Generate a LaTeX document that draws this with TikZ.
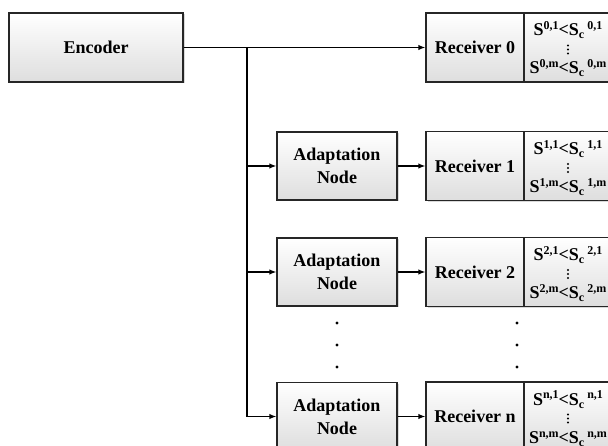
\documentclass[tikz,border=0pt]{standalone}
\usepackage{fontspec}
\setmainfont{Liberation Serif}
\usetikzlibrary{shadows,arrows.meta}

% small raised / lowered indices in the text font
\newcommand\supx[1]{\raisebox{6pt}{\fontsize{12}{12}\selectfont #1}}
\newcommand\subx[1]{\raisebox{-3pt}{\fontsize{12}{12}\selectfont #1}}
\newcommand\condline[2]{S\supx{#1,#2}<S\subx{c}\,\supx{#1,#2}}

\begin{document}
\begin{tikzpicture}[x=1pt,y=-1pt,
  box/.style={draw=black!85, line width=1.3pt, top color=white, bottom color=black!13,
    drop shadow={shadow xshift=1.5pt,shadow yshift=-1.5pt,opacity=0.3},
    font=\fontsize{18}{23}\selectfont\bfseries, align=center, inner sep=0pt},
  encbox/.style={box, minimum width=174pt, minimum height=69pt},
  adbox/.style={box, minimum width=120pt, minimum height=68pt},
  recbox/.style={box, minimum width=98pt, minimum height=69pt},
  condbox/.style={box, minimum width=88pt, minimum height=69pt},
  condtext/.style={font=\fontsize{18}{18}\selectfont\bfseries, inner sep=0pt, anchor=base},
  wire/.style={line width=1.3pt, black},
  feed/.style={wire, -{Latex[length=7pt,width=5.5pt]}},
  vdot/.style={fill=black, radius=1.1pt},
  rowdot/.style={fill=black, radius=1.7pt}
]
\useasboundingbox (0,0) rectangle (608,446);

% encoder
\node[encbox] (enc) at (96,47.5) {Encoder};

% receivers with their condition cells
\foreach \k/\y in {0/47.5, 1/166, 2/272, n/416.5}{
  \node[recbox] (rec\k) at (475,\y) {Receiver \k};
  \node[condbox] (cond\k) at (568,\y) {};
  \node[condtext] (cond\k a) at ([yshift=11.5pt]cond\k.center) {\condline{\k}{1}};
  \node[condtext] (cond\k b) at ([yshift=-26.5pt]cond\k.center) {\condline{\k}{m}};
  \foreach \d in {-2,2,6}{
    \fill[vdot] ([yshift=-\d pt]cond\k.center) circle;
  }
}

% adaptation nodes
\foreach \k/\y in {1/166, 2/272, n/416.5}{
  \node[adbox] (ad\k) at (337,\y) {Adaptation\\Node};
  \draw[feed] (ad\k.east) -- (rec\k.west);
}

% distribution from the encoder
\coordinate (split) at (247,47.5);
\draw[feed] (enc.east) -- (rec0.west);
\draw[feed] (split) |- (adn.west);
\draw[feed] (split |- ad1.west) -- (ad1.west);
\draw[feed] (split |- ad2.west) -- (ad2.west);

% omitted rows
\foreach \y in {323,345,367}{
  \fill[rowdot] (337,\y) circle;
  \fill[rowdot] (517,\y) circle;
}
\end{tikzpicture}
\end{document}
